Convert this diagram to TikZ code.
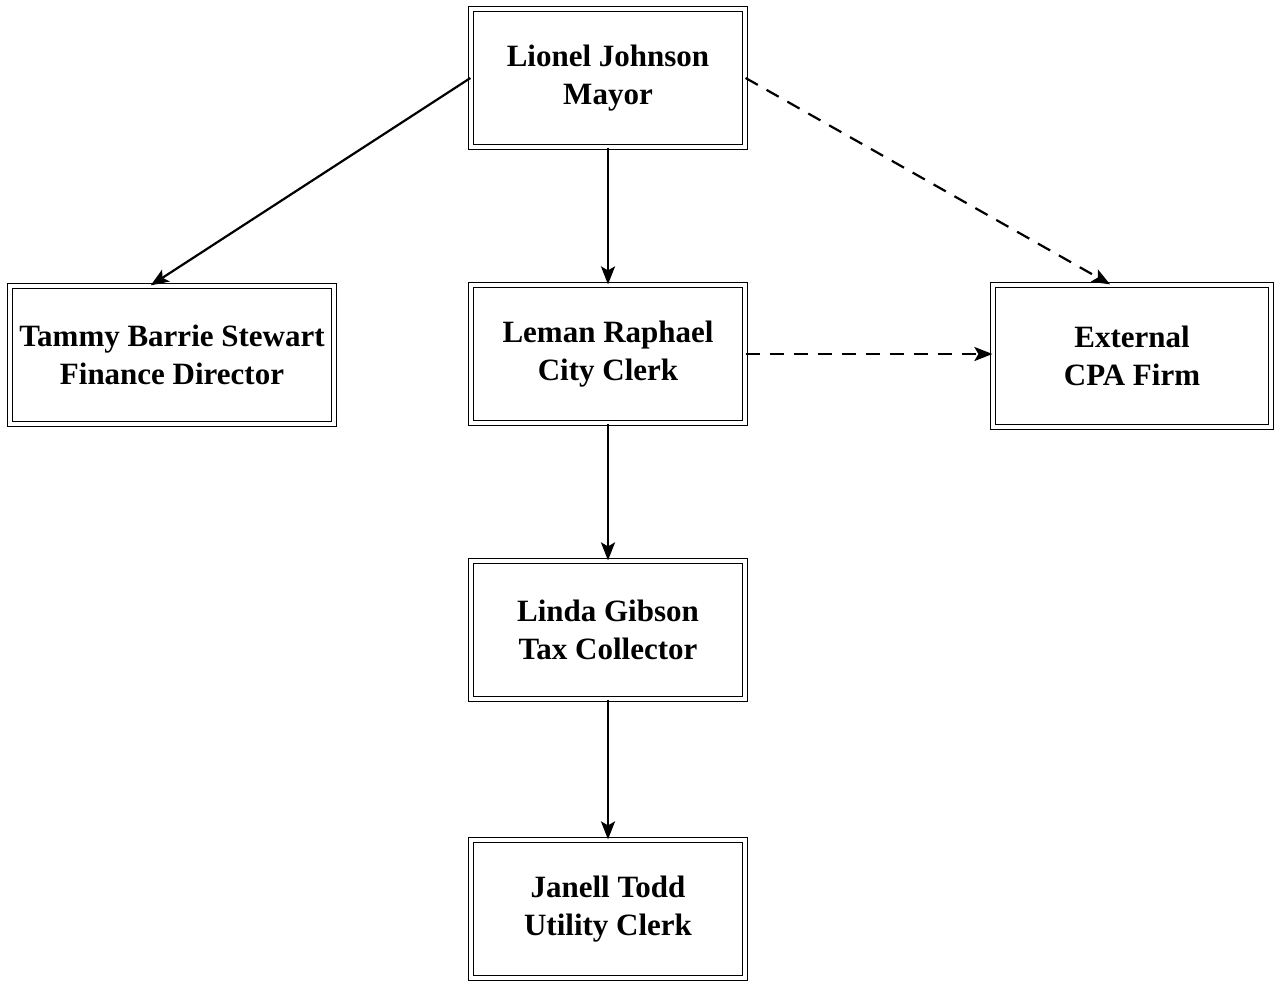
\documentclass[tikz,border=0pt]{standalone}
\usepackage{fontspec}
\setmainfont{Liberation Serif}
\usetikzlibrary{arrows.meta}

\tikzset{
  box/.style={draw, double, line width=0.6pt, double distance=1.6pt,
    minimum width=137pt, minimum height=69pt, align=center,
    font=\fontsize{15.5}{19}\selectfont\bfseries},
  link/.style={line width=1.1pt, -{Stealth[length=9pt,width=7pt,inset=2pt]}},
  dashlink/.style={link, dash pattern=on 7pt off 5pt}
}

\begin{document}
\begin{tikzpicture}[x=0.5pt, y=-0.5pt]
    \useasboundingbox (0, 0) rectangle (1274, 980);

    \node[box] (mayor) at (608, 78) {Lionel Johnson\\Mayor};
    \node[box, minimum width=162pt] (finance) at (172, 355) {Tammy Barrie Stewart\\Finance Director};
    \node[box] (clerk) at (608, 354) {Leman Raphael\\City Clerk};
    \node[box, minimum width=139pt, minimum height=71pt] (cpa) at (1132, 356) {External\\CPA Firm};
    \node[box] (tax) at (608, 630) {Linda Gibson\\Tax Collector};
    \node[box] (utility) at (608, 909) {Janell Todd\\Utility Clerk};

    \draw[link] (mayor.west) -- (finance.107);
    \draw[link] (mayor.south) -- (clerk.north);
    \draw[dashlink] (mayor.east) -- (cpa.107);
    \draw[dashlink] (clerk.east) -- (clerk.east -| cpa.west);
    \draw[link] (clerk.south) -- (tax.north);
    \draw[link] (tax.south) -- (utility.north);

  \end{tikzpicture}
\end{document}
